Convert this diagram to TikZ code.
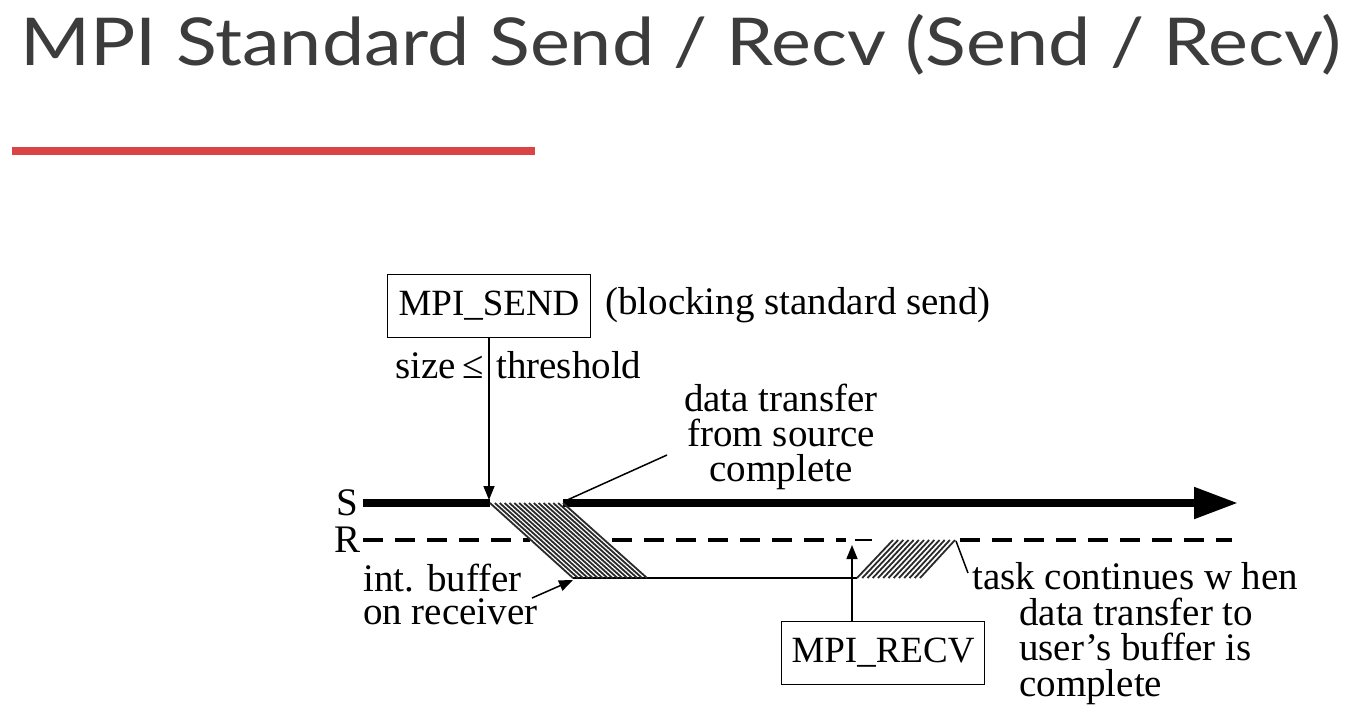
\documentclass[tikz,border=0pt]{standalone}
\usepackage{fontspec}
\setmainfont{Liberation Serif}
\newfontfamily\titlefont{Lato}
\usetikzlibrary{arrows.meta}
\definecolor{titlegray}{HTML}{3C3C3C}
\definecolor{accentred}{HTML}{DB4444}
\definecolor{hatchgray}{HTML}{2A2A2A}
\begin{document}
\begin{tikzpicture}[x=1pt,y=-1pt,
  lbl/.style={font=\fontsize{39}{35}\selectfont, inner sep=0pt, anchor=base west},
  block/.style={font=\fontsize{39}{35}\selectfont, inner sep=0pt},
  callbox/.style={draw, line width=1.5pt, minimum width=203pt, minimum height=63pt,
    font=\fontsize{37}{36}\selectfont, inner sep=0pt},
  leader/.style={line width=1.5pt},
  pointer/.style={line width=1.5pt, -{Triangle[length=14pt,width=11pt]}},
  sline/.style={line width=8pt},
  rline/.style={line width=4pt, dash pattern=on 20pt off 12pt},
  hatch/.style={line width=1.8pt, hatchgray}
]
\useasboundingbox (0,0) rectangle (1351,721);
\fill[white] (0,0) rectangle (1351,721);

% heading and red rule
\node[anchor=base west, font=\titlefont\fontsize{66}{66}\selectfont, text=titlegray, inner sep=0pt]
  (title) at (20,65) {\scalebox{1.143}[1]{MPI Standard Send / Recv (Send / Recv)}};
\draw[accentred, line width=8pt] (12,151) -- (535,151);

% timeline labels
\node[lbl] (S) at (336,515) {S};
\node[lbl] (R) at (334,552) {R};

% call boxes
\node[callbox] (send) at (489,306) {MPI\_SEND};
\node[lbl] (sendnote) at (605,314) {(blocking standard send)};
\node[callbox] (recv) at (883,653) {MPI\_RECV};

% key points on the timelines
\coordinate (s0) at (363,503);
\coordinate (s1) at (490,503);
\coordinate (s2) at (563,503);
\coordinate (s3) at (1238,503);
\coordinate (sendhit) at (489,500);
\coordinate (recvhit) at (852,545);
\coordinate (bufend) at (573,580);
\coordinate (cmpl) at (565,501);
\coordinate (cmpltail) at (667,455);
\coordinate (taskend) at (956,541);
\coordinate (tasktail) at (968,573);
\coordinate (buftail) at (532,598);

% sender timeline
\draw[sline] (s0) -- (s1);
\draw[sline, -{Triangle[length=44pt,width=30pt]}] (s2) -- (s3);

% receiver timeline (dashed, broken by the transfers)
\draw[rline] (363,540) -- (530,540);
\draw[rline] (612,540) -- (846,540);
\draw[line width=2.5pt] (855,540) -- (872,540);
\draw[rline] (960,540) -- (1232,540);

% internal buffer line
\draw[leader] (573,578) -- (857,578);

% transfer into the internal buffer
\foreach \t in {0,...,15} {
  \draw[hatch] ({490+73*\t/15},503) -- ({573+74*\t/15},578);
}
% copy from the internal buffer to the user's buffer
\foreach \t in {0,...,12} {
  \draw[hatch] ({857+63*\t/12},578) -- ({893+62*\t/12},540);
}

% arrows from the calls
\draw[pointer] (send.south) -- (sendhit);
\draw[pointer] (recv.north -| recvhit) -- (recvhit);

% labels and their leaders
\node[lbl] (size) at (395,378) {size\,≤};
\node[lbl] (thresh) at (496,378) {threshold};

\node[block, align=center, anchor=north] (src) at (781,383.5) {data transfer\\from source\\complete};
\draw[leader] (cmpl) -- (cmpltail);

\node[block, align=left, anchor=north west, font=\fontsize{39}{33}\selectfont] (buf) at (363,563.5)
  {int. buffer\\on receiver};
\draw[pointer] (buftail) -- (bufend);

\node[lbl] (task1) at (972,589) {task continues w hen};
\node[block, align=left, anchor=north west, font=\fontsize{39}{35.5}\selectfont] (task2) at (1019,597.5)
  {data transfer to\\user's buffer is\\complete};
\draw[leader] (taskend) -- (tasktail);
\end{tikzpicture}
\end{document}
